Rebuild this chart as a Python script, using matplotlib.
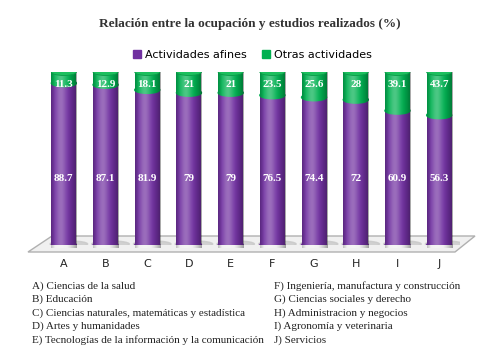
import numpy as np
import matplotlib.pyplot as plt
from matplotlib.patches import Ellipse, Rectangle, Polygon
from matplotlib.lines import Line2D

categories = ['A', 'B', 'C', 'D', 'E', 'F', 'G', 'H', 'I', 'J']
afines = [88.7, 87.1, 81.9, 79, 79, 76.5, 74.4, 72, 60.9, 56.3]
otras = [11.3, 12.9, 18.1, 21, 21, 23.5, 25.6, 28, 39.1, 43.7]
notes_left = ['A) Ciencias de la salud', 'B) Educación',
              'C) Ciencias naturales, matemáticas y estadística',
              'D) Artes y humanidades',
              'E) Tecnologías de la información y la comunicación']
notes_right = ['F) Ingeniería, manufactura y construcción',
               'G) Ciencias sociales y derecho', 'H) Administracion y negocios',
               'I) Agronomía y veterinaria', 'J) Servicios']

purple = '#7030A0'
green = '#00B050'
serif = 'Liberation Serif'
floor_val = -75  # 3d floor sits below zero like the original perspective chart

fig = plt.figure(figsize=(5, 3.5), dpi=100)
fig.patch.set_facecolor('white')

# floor of the 3d plot (behind the axes)
floor = Polygon([(28 / 500, 1 - 252 / 350), (52 / 500, 1 - 236 / 350),
                 (475 / 500, 1 - 236 / 350), (455 / 500, 1 - 252 / 350)],
                closed=True, transform=fig.transFigure,
                facecolor='#f0f0f0', edgecolor='#b0b0b0', lw=1.0, zorder=-5)
fig.add_artist(floor)

ax = fig.add_axes([43 / 500, 105 / 350, 417 / 500, 173 / 350])
ax.set_xlim(-0.5, 9.5)
ax.set_ylim(floor_val, 100)
ax.axis('off')
ax.patch.set_alpha(0)

x = np.arange(len(categories))
w = 0.6
eh = 7.0  # ellipse height in data units

# horizontal shading for cylinder look
grad = np.linspace(0, 1, 64)
shade = np.zeros((1, 64, 4))
shade[..., :3] = 1.0
shade[..., 3] = 0.3 * np.exp(-((grad - 0.38) / 0.22) ** 2)
dark = np.zeros((1, 64, 4))
dark[..., 3] = 0.35 * np.clip((grad - 0.6) / 0.4, 0, 1) ** 1.5 + 0.2 * np.clip((0.15 - grad) / 0.15, 0, 1)

bottoms = [floor_val] * len(x)
heights = [a - floor_val for a in afines]
ax.bar(x, heights, bottom=bottoms, width=w, color=purple, zorder=2)
ax.bar(x, otras, width=w, bottom=afines, color=green, zorder=2)

for i in range(len(x)):
    xi = x[i]
    # shadow on the floor
    ax.add_patch(Ellipse((xi + 0.12, floor_val + 1), w * 1.5, eh * 0.9, color='#c8c8c8',
                         alpha=0.8, zorder=1.5))
    # bottom rounded end
    ax.add_patch(Ellipse((xi, floor_val), w, eh, color=purple, zorder=1.9))
    # front curve of the green segment over the purple one
    ax.add_patch(Ellipse((xi, afines[i]), w, eh, color=green, zorder=2.1))
    for img in (shade, dark):
        im = ax.imshow(img, extent=(xi - w / 2, xi + w / 2, floor_val - eh / 2, 100),
                       aspect='auto', zorder=2.3, interpolation='bilinear')
        clip = Rectangle((xi - w / 2, floor_val - eh / 2), w, 100 - floor_val + eh / 2,
                         transform=ax.transData)
        im.set_clip_path(clip)
    # top cap
    ax.add_patch(Ellipse((xi, 100), w, eh, facecolor='#1cbf5e', edgecolor='#0a9a48',
                         lw=0.6, zorder=2.5))
    ax.text(xi, -8, f'{afines[i]:g}', ha='center', va='center', color='white',
            fontsize=8, fontweight='bold', family=serif, zorder=3)
    ax.text(xi, 87, f'{otras[i]:g}', ha='center', va='center', color='white',
            fontsize=8, fontweight='bold', family=serif, zorder=3)

for i, c in enumerate(categories):
    fig.text((43 + (i + 0.5) * 41.7) / 500, 1 - 264 / 350, c, ha='center', va='center',
             fontsize=8, color='#222222')

fig.text(0.5, 1 - 24 / 350, 'Relación entre la ocupación y estudios realizados (%)',
         ha='center', va='center', fontsize=9.5, fontweight='bold', family=serif,
         color='#333333')

handles = [Line2D([], [], marker='s', ls='', color=purple, markersize=6),
           Line2D([], [], marker='s', ls='', color=green, markersize=6)]
fig.legend(handles, ['Actividades afines', 'Otras actividades'], loc='center',
           bbox_to_anchor=(0.505, 1 - 55 / 350), ncol=2, frameon=False, fontsize=8,
           handlelength=0.7, handletextpad=0.35, columnspacing=1.4)

ys = [286, 299.5, 313, 326.5, 340]
for k in range(5):
    fig.text(32 / 500, 1 - ys[k] / 350, notes_left[k], ha='left', va='center',
             fontsize=8.0, family=serif, color='#222222')
    fig.text(274 / 500, 1 - ys[k] / 350, notes_right[k], ha='left', va='center',
             fontsize=8.0, family=serif, color='#222222')

fig.savefig('out.png', dpi=100, facecolor='white')
